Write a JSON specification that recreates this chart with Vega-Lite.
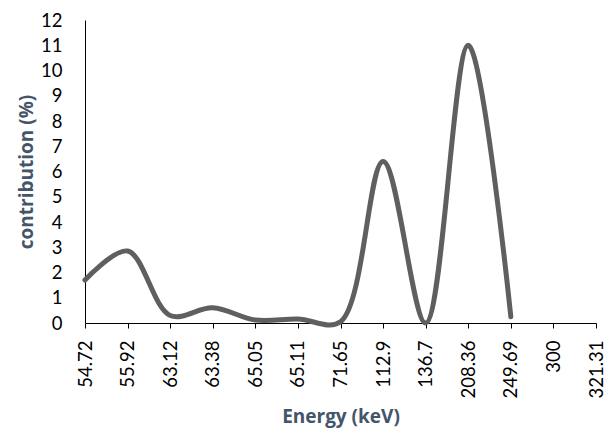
{
  "$schema": "https://vega.github.io/schema/vega-lite/v6.json",
  "width": 511,
  "height": 303,
  "autosize": {"type": "none"},
  "padding": {"left": 85, "top": 20, "right": 10, "bottom": 107},
  "background": "white",
  "config": {"view": {"stroke": null}},
  "data": {
    "values": [
      {"energy": "54.72", "contribution": 1.7},
      {"energy": "55.92", "contribution": 2.85},
      {"energy": "63.12", "contribution": 0.3},
      {"energy": "63.38", "contribution": 0.6},
      {"energy": "65.05", "contribution": 0.12},
      {"energy": "65.11", "contribution": 0.16},
      {"energy": "71.65", "contribution": 0.05},
      {"energy": "112.9", "contribution": 6.4},
      {"energy": "136.7", "contribution": 0.0},
      {"energy": "208.36", "contribution": 11.0},
      {"energy": "249.69", "contribution": 0.25}
    ]
  },
  "mark": {"type": "line", "interpolate": "catmull-rom", "color": "#5f5f5f", "strokeWidth": 5, "strokeCap": "round"},
  "encoding": {
    "x": {
      "field": "energy",
      "type": "ordinal",
      "scale": {"domain": ["54.72","55.92","63.12","63.38","65.05","65.11","71.65","112.9","136.7","208.36","249.69","300","321.31"], "padding": 0},
      "axis": {
        "title": "Energy (keV)",
        "titleFont": "Open Sans",
        "titleFontWeight": "bold",
        "titleFontSize": 19,
        "titleColor": "#44546a",
        "titlePadding": 9,
        "labelAngle": -90,
        "labelFont": "Lato",
        "labelFontSize": 18.5,
        "labelColor": "#000000",
        "labelPadding": 12,
        "tickSize": 5,
        "tickColor": "#000000",
        "domainColor": "#000000",
        "grid": false
      }
    },
    "y": {
      "field": "contribution",
      "type": "quantitative",
      "scale": {"domain": [0, 12], "nice": false},
      "axis": {
        "title": "contribution (%)",
        "titleFont": "Open Sans",
        "titleFontWeight": "bold",
        "titleFontSize": 19,
        "titleColor": "#44546a",
        "titlePadding": 4,
        "values": [0,1,2,3,4,5,6,7,8,9,10,11,12],
        "labelFont": "Lato",
        "labelFontSize": 18.5,
        "labelColor": "#000000",
        "labelPadding": 23,
        "ticks": false,
        "domainColor": "#000000",
        "grid": false
      }
    }
  }
}
